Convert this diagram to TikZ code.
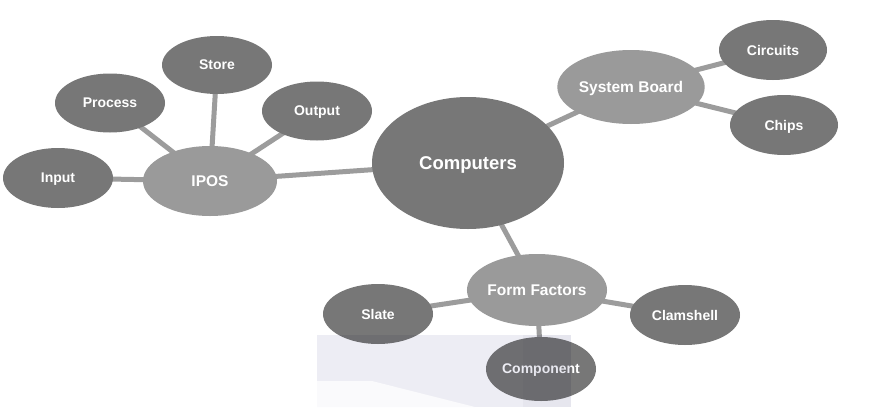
\documentclass[tikz,border=0pt]{standalone}
\usepackage{fontspec}
\setmainfont{Liberation Sans}
\usetikzlibrary{shapes.geometric,backgrounds}
\definecolor{darknode}{HTML}{777777}
\definecolor{lightnode}{HTML}{9A9A9A}
\definecolor{linkgray}{HTML}{9C9C9C}
\definecolor{wmark}{HTML}{EDEDF4}
\definecolor{wband}{HTML}{E6E6EE}
\tikzset{
  bub/.style={ellipse, inner sep=0pt, text=white, text depth=0pt, font=\bfseries\fontsize{14}{16}\selectfont},
  leafnode/.style={bub, fill=darknode, minimum width=110pt, minimum height=60pt},
  hubnode/.style={bub, fill=lightnode, minimum width=134pt, minimum height=70pt, font=\bfseries\fontsize{15.5}{18}\selectfont},
  link/.style={draw=linkgray, line width=5pt},
}
\begin{document}
\begin{tikzpicture}[x=1pt,y=-1pt]
\useasboundingbox (0,0) rectangle (896,407);
% hubs
\node[bub, fill=darknode, minimum width=192pt, minimum height=132pt, font=\bfseries\fontsize{18.5}{22}\selectfont] (comp) at (468,163) {Computers};
\node[hubnode] (ipos) at (210,181) {IPOS};
\node[hubnode, minimum width=130pt, minimum height=74pt] (sb) at (631,87) {System Board};
\node[hubnode, minimum height=72pt] (ff) at (537,290) {Form Factors};
% leaves
\node[leafnode] (input) at (58,178) {Input};
\node[leafnode, minimum height=59pt] (process) at (110,103) {Process};
\node[leafnode, minimum height=58pt] (store) at (217,65) {Store};
\node[leafnode, minimum height=59pt] (output) at (317,111) {Output};
\node[leafnode, minimum width=108pt] (circ) at (773,50) {Circuits};
\node[leafnode, minimum width=108pt] (chips) at (784,125) {Chips};
\node[leafnode] (slate) at (378,314) {Slate};
\node[leafnode] (clam) at (685,315) {Clamshell};
\node[leafnode, minimum height=64pt] (compo) at (541,369) {Component};
% connectors
\begin{scope}[on background layer]
\fill[white] (0,0) rectangle (896,407);
\draw[link] (input.center) -- (ipos.center);
\draw[link] (process.center) -- (ipos.center);
\draw[link] (store.center) -- (ipos.center);
\draw[link] (output.center) -- (ipos.center);
\draw[link] (ipos.center) -- (comp.center);
\draw[link] (comp.center) -- (sb.center);
\draw[link] (sb.center) -- (circ.center);
\draw[link] (sb.center) -- (chips.center);
\draw[link] (comp.center) -- (ff.center);
\draw[link] (ff.center) -- (slate.center);
\draw[link] (ff.center) -- (clam.center);
\draw[link] (ff.center) -- (compo.center);
\end{scope}
% faint watermark
\fill[wmark, blend mode=multiply] (317,335) rectangle (523,407);
\fill[wband, blend mode=multiply] (523,335) rectangle (571,407);
\fill[white!70!wmark] (317,381) -- (372,381) -- (475,407) -- (317,407) -- cycle;
\end{tikzpicture}
\end{document}
